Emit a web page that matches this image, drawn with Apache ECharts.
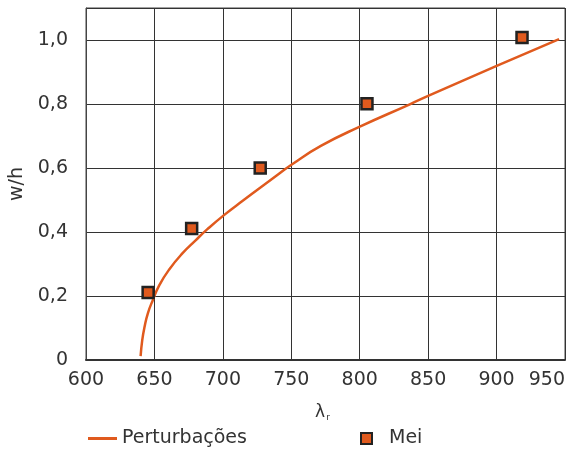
<!DOCTYPE html>
<html><head><meta charset="utf-8">
<script src="https://cdn.jsdelivr.net/npm/echarts@6/dist/echarts.min.js"></script>
<style>html,body{margin:0;padding:0;background:#fff}#c{width:581px;height:450px}</style>
</head><body><div id="c"></div>
<script>
// Curve "Perturbações" (lambda_r, w/h)
const curveX = [639.9, 641.1, 642.8, 645.2, 648.8, 653.6, 660.8, 670.4, 680.1, 688.5, 700.6, 715, 740.3, 750.4, 771.6, 800.5, 836.6, 850.4, 900.5, 945.7];
const curveY = [0.012, 0.062, 0.104, 0.146, 0.187, 0.234, 0.283, 0.333, 0.374, 0.408, 0.452, 0.499, 0.580, 0.611, 0.669, 0.730, 0.799, 0.826, 0.920, 1.003];
// Points "Mei"
const meiX = [645.4, 677.2, 727.3, 805.3, 918.6];
const meiY = [0.211, 0.411, 0.600, 0.801, 1.008];

const orange = '#e05a1e';
const font = 'DejaVu Sans';
const txt = '#333';
const chart = echarts.init(document.getElementById('c'));
chart.setOption({
  animation: false,
  grid: {left: 86, right: 16, top: 8, bottom: 90, show: true, borderColor: '#444', borderWidth: 1, outerBoundsMode: 'none', containLabel: false},
  xAxis: {
    type: 'value', min: 600, max: 950, interval: 50,
    name: '{l|λ}{s|r}', nameLocation: 'middle', nameGap: 43,
    nameTextStyle: {padding: [0, 6, 0, 0], rich: {l: {fontFamily: font, fontSize: 17, color: txt}, s: {fontFamily: font, fontSize: 9, color: txt, verticalAlign: 'bottom', padding: [10, 0, 0, 1]}}},
    axisLine: {show: true, lineStyle: {color: '#333', width: 2}},
    axisTick: {show: false},
    splitLine: {show: true, lineStyle: {color: '#333', width: 1}},
    axisLabel: {fontFamily: font, fontSize: 19, color: txt, margin: 11, alignMaxLabel: 'right'}
  },
  yAxis: {
    type: 'value', min: 0, max: 1.1, interval: 0.2,
    name: 'w/h', nameLocation: 'middle', nameGap: 57,
    nameTextStyle: {fontFamily: font, fontSize: 19, color: txt},
    axisLine: {show: true, lineStyle: {color: '#444', width: 1}},
    axisTick: {show: false},
    splitLine: {show: true, lineStyle: {color: '#333', width: 1}},
    axisLabel: {fontFamily: font, fontSize: 19, color: txt, margin: 18,
      formatter: v => v > 1.05 ? '' : (v === 0 ? '0' : v.toFixed(1).replace('.', ','))}
  },
  legend: [
    {data: [{name: 'Perturbações', icon: 'rect'}], left: 83, top: 424, itemWidth: 29, itemHeight: 3,
     itemStyle: {color: orange},
     textStyle: {fontFamily: font, fontSize: 19, color: txt, padding: [0, 0, 0, 0]}},
    {data: [{name: 'Mei', icon: 'rect'}], left: 355, top: 424, itemWidth: 11, itemHeight: 11,
     itemStyle: {color: orange, borderColor: '#222', borderWidth: 2},
     textStyle: {fontFamily: font, fontSize: 19, color: txt, padding: [0, 0, 0, 12]}}
  ],
  series: [
    {name: 'Perturbações', type: 'line', data: curveX.map((x, i) => [x, curveY[i]]),
     smooth: 0.5, symbol: 'none', showSymbol: false,
     lineStyle: {color: orange, width: 2.5}, itemStyle: {color: orange}, z: 3},
    {name: 'Mei', type: 'scatter', data: meiX.map((x, i) => [x, meiY[i]]),
     symbol: 'rect', symbolSize: 11,
     itemStyle: {color: orange, opacity: 1, borderColor: '#222', borderWidth: 2.5}, z: 4}
  ]
});
</script></body></html>
